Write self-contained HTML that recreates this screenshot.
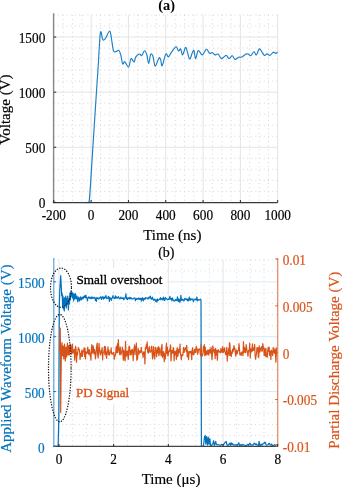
<!DOCTYPE html>
<html><head><meta charset="utf-8"><style>
html,body{margin:0;padding:0;background:#fff;}
svg{display:block;will-change:transform;font-family:"Liberation Serif", serif;}
</style></head><body>
<svg width="342" height="487" viewBox="0 0 342 487">
<rect width="342" height="487" fill="#fff"/>
<line x1="63.13" y1="14.99" x2="63.13" y2="202.4" stroke="#d6d6d6" stroke-width="1" stroke-dasharray="1 3.2"/>
<line x1="72.46" y1="14.99" x2="72.46" y2="202.4" stroke="#d6d6d6" stroke-width="1" stroke-dasharray="1 3.2"/>
<line x1="81.79" y1="14.99" x2="81.79" y2="202.4" stroke="#d6d6d6" stroke-width="1" stroke-dasharray="1 3.2"/>
<line x1="100.45" y1="14.99" x2="100.45" y2="202.4" stroke="#d6d6d6" stroke-width="1" stroke-dasharray="1 3.2"/>
<line x1="109.78" y1="14.99" x2="109.78" y2="202.4" stroke="#d6d6d6" stroke-width="1" stroke-dasharray="1 3.2"/>
<line x1="119.1" y1="14.99" x2="119.1" y2="202.4" stroke="#d6d6d6" stroke-width="1" stroke-dasharray="1 3.2"/>
<line x1="137.76" y1="14.99" x2="137.76" y2="202.4" stroke="#d6d6d6" stroke-width="1" stroke-dasharray="1 3.2"/>
<line x1="147.09" y1="14.99" x2="147.09" y2="202.4" stroke="#d6d6d6" stroke-width="1" stroke-dasharray="1 3.2"/>
<line x1="156.42" y1="14.99" x2="156.42" y2="202.4" stroke="#d6d6d6" stroke-width="1" stroke-dasharray="1 3.2"/>
<line x1="175.08" y1="14.99" x2="175.08" y2="202.4" stroke="#d6d6d6" stroke-width="1" stroke-dasharray="1 3.2"/>
<line x1="184.41" y1="14.99" x2="184.41" y2="202.4" stroke="#d6d6d6" stroke-width="1" stroke-dasharray="1 3.2"/>
<line x1="193.74" y1="14.99" x2="193.74" y2="202.4" stroke="#d6d6d6" stroke-width="1" stroke-dasharray="1 3.2"/>
<line x1="212.4" y1="14.99" x2="212.4" y2="202.4" stroke="#d6d6d6" stroke-width="1" stroke-dasharray="1 3.2"/>
<line x1="221.72" y1="14.99" x2="221.72" y2="202.4" stroke="#d6d6d6" stroke-width="1" stroke-dasharray="1 3.2"/>
<line x1="231.05" y1="14.99" x2="231.05" y2="202.4" stroke="#d6d6d6" stroke-width="1" stroke-dasharray="1 3.2"/>
<line x1="249.71" y1="14.99" x2="249.71" y2="202.4" stroke="#d6d6d6" stroke-width="1" stroke-dasharray="1 3.2"/>
<line x1="259.04" y1="14.99" x2="259.04" y2="202.4" stroke="#d6d6d6" stroke-width="1" stroke-dasharray="1 3.2"/>
<line x1="268.37" y1="14.99" x2="268.37" y2="202.4" stroke="#d6d6d6" stroke-width="1" stroke-dasharray="1 3.2"/>
<line x1="53.8" y1="191.38" x2="277.7" y2="191.38" stroke="#d6d6d6" stroke-width="1" stroke-dasharray="1 3.2"/>
<line x1="53.8" y1="180.35" x2="277.7" y2="180.35" stroke="#d6d6d6" stroke-width="1" stroke-dasharray="1 3.2"/>
<line x1="53.8" y1="169.33" x2="277.7" y2="169.33" stroke="#d6d6d6" stroke-width="1" stroke-dasharray="1 3.2"/>
<line x1="53.8" y1="158.3" x2="277.7" y2="158.3" stroke="#d6d6d6" stroke-width="1" stroke-dasharray="1 3.2"/>
<line x1="53.8" y1="136.26" x2="277.7" y2="136.26" stroke="#d6d6d6" stroke-width="1" stroke-dasharray="1 3.2"/>
<line x1="53.8" y1="125.23" x2="277.7" y2="125.23" stroke="#d6d6d6" stroke-width="1" stroke-dasharray="1 3.2"/>
<line x1="53.8" y1="114.21" x2="277.7" y2="114.21" stroke="#d6d6d6" stroke-width="1" stroke-dasharray="1 3.2"/>
<line x1="53.8" y1="103.18" x2="277.7" y2="103.18" stroke="#d6d6d6" stroke-width="1" stroke-dasharray="1 3.2"/>
<line x1="53.8" y1="81.14" x2="277.7" y2="81.14" stroke="#d6d6d6" stroke-width="1" stroke-dasharray="1 3.2"/>
<line x1="53.8" y1="70.11" x2="277.7" y2="70.11" stroke="#d6d6d6" stroke-width="1" stroke-dasharray="1 3.2"/>
<line x1="53.8" y1="59.09" x2="277.7" y2="59.09" stroke="#d6d6d6" stroke-width="1" stroke-dasharray="1 3.2"/>
<line x1="53.8" y1="48.06" x2="277.7" y2="48.06" stroke="#d6d6d6" stroke-width="1" stroke-dasharray="1 3.2"/>
<line x1="53.8" y1="26.02" x2="277.7" y2="26.02" stroke="#d6d6d6" stroke-width="1" stroke-dasharray="1 3.2"/>
<line x1="53.8" y1="14.99" x2="277.7" y2="14.99" stroke="#d6d6d6" stroke-width="1" stroke-dasharray="1 3.2"/>
<line x1="91.12" y1="14.99" x2="91.12" y2="202.4" stroke="#e4e4e4" stroke-width="1" />
<line x1="128.43" y1="14.99" x2="128.43" y2="202.4" stroke="#e4e4e4" stroke-width="1" />
<line x1="165.75" y1="14.99" x2="165.75" y2="202.4" stroke="#e4e4e4" stroke-width="1" />
<line x1="203.07" y1="14.99" x2="203.07" y2="202.4" stroke="#e4e4e4" stroke-width="1" />
<line x1="240.38" y1="14.99" x2="240.38" y2="202.4" stroke="#e4e4e4" stroke-width="1" />
<line x1="277.7" y1="14.99" x2="277.7" y2="202.4" stroke="#e4e4e4" stroke-width="1" />
<line x1="53.8" y1="147.28" x2="277.7" y2="147.28" stroke="#e4e4e4" stroke-width="1" />
<line x1="53.8" y1="92.16" x2="277.7" y2="92.16" stroke="#e4e4e4" stroke-width="1" />
<line x1="53.8" y1="37.04" x2="277.7" y2="37.04" stroke="#e4e4e4" stroke-width="1" />
<path fill="none" stroke="#1a7fc6" stroke-width="1.15" stroke-linejoin="round" d="M85,202.4 C85.55,202.37 87.53,203.1 88.3,202.2 C89.07,201.3 88.83,206.2 89.6,197 C90.37,187.8 91.9,162.33 92.9,147 C93.9,131.67 94.72,118.5 95.6,105 C96.48,91.5 97.4,78.05 98.2,66 C99,53.95 99.63,37.08 100.4,32.7 C101.17,28.32 101.95,38.77 102.8,39.7 C103.65,40.63 104.37,39.75 105.5,38.3 C106.63,36.85 108.63,31.13 109.6,31 C110.57,30.87 110.65,34.22 111.3,37.5 C111.95,40.78 112.65,48.38 113.5,50.7 C114.35,53.02 115.5,51.45 116.4,51.4 C117.3,51.35 118.17,49.78 118.9,50.4 C119.63,51.02 120.17,52.85 120.8,55.1 C121.43,57.35 122.03,62.8 122.7,63.9 C123.37,65 123.82,61.17 124.8,61.7 C125.78,62.23 127.57,67.6 128.6,67.1 C129.63,66.6 130.08,59.55 131,58.7 C131.92,57.85 133.3,62.3 134.1,62 C134.9,61.7 134.9,58.23 135.8,56.9 C136.7,55.57 138.52,54.23 139.5,54 C140.48,53.77 140.85,56.03 141.7,55.5 C142.55,54.97 143.75,50.93 144.6,50.8 C145.45,50.67 146.12,52.58 146.8,54.7 C147.48,56.82 148.08,63.5 148.7,63.5 C149.32,63.5 149.83,56.03 150.5,54.7 C151.17,53.37 151.97,53.67 152.7,55.5 C153.43,57.33 154.18,64.48 154.9,65.7 C155.62,66.92 156.28,64.13 157,62.8 C157.72,61.47 158.58,58.18 159.2,57.7 C159.82,57.22 160.2,58.57 160.7,59.9 C161.2,61.23 161.35,66.68 162.2,65.7 C163.05,64.72 164.78,55.47 165.8,54 C166.82,52.53 167.32,57.27 168.3,56.9 C169.28,56.53 170.42,53.5 171.7,51.8 C172.98,50.1 174.87,46.85 176,46.7 C177.13,46.55 177.73,50.52 178.5,50.9 C179.27,51.28 179.9,48.33 180.6,49 C181.3,49.67 181.82,55.17 182.7,54.9 C183.58,54.63 184.77,46.73 185.9,47.4 C187.03,48.07 188.42,58.05 189.5,58.9 C190.58,59.75 191.65,53.88 192.4,52.5 C193.15,51.12 193.47,49.58 194,50.6 C194.53,51.62 194.88,58.6 195.6,58.6 C196.32,58.6 197.18,51.22 198.3,50.6 C199.42,49.98 200.95,55.12 202.3,54.9 C203.65,54.68 205.18,49.57 206.4,49.3 C207.62,49.03 208.62,52.77 209.6,53.3 C210.58,53.83 211.42,52.23 212.3,52.5 C213.18,52.77 213.93,54.63 214.9,54.9 C215.87,55.17 216.98,53.48 218.1,54.1 C219.22,54.72 220.27,58.38 221.6,58.6 C222.93,58.82 224.87,55.4 226.1,55.4 C227.33,55.4 227.98,58.55 229,58.6 C230.02,58.65 231.2,55.58 232.2,55.7 C233.2,55.82 233.92,59.03 235,59.3 C236.08,59.57 237.55,57.68 238.7,57.3 C239.85,56.92 240.7,57.53 241.9,57 C243.1,56.47 244.83,54.58 245.9,54.1 C246.97,53.62 247.5,53.83 248.3,54.1 C249.1,54.37 249.77,56.1 250.7,55.7 C251.63,55.3 252.95,51.83 253.9,51.7 C254.85,51.57 255.53,55.35 256.4,54.9 C257.27,54.45 258.3,49.67 259.1,49 C259.9,48.33 260.32,49.83 261.2,50.9 C262.08,51.97 263.42,54.92 264.4,55.4 C265.38,55.88 266.17,53.8 267.1,53.8 C268.03,53.8 268.98,55.67 270,55.4 C271.02,55.13 272.25,52.55 273.2,52.2 C274.15,51.85 274.95,53.3 275.7,53.3 C276.45,53.3 277.37,52.38 277.7,52.2"/>
<line x1="53.6" y1="13.2" x2="53.6" y2="202.9" stroke="#858585" stroke-width="1.4" />
<line x1="52.8" y1="202.6" x2="277.7" y2="202.6" stroke="#3a3a3a" stroke-width="1.2" />
<line x1="53.8" y1="202.4" x2="56.2" y2="202.4" stroke="#262626" stroke-width="1" />
<text transform="translate(45.3,208.4) scale(1,1.1)" fill="#000" stroke="#000" stroke-width="0.18" font-size="13.3" text-anchor="end" >0</text>
<line x1="53.8" y1="147.28" x2="56.2" y2="147.28" stroke="#262626" stroke-width="1" />
<text transform="translate(45.3,153.28) scale(1,1.1)" fill="#000" stroke="#000" stroke-width="0.18" font-size="13.3" text-anchor="end" >500</text>
<line x1="53.8" y1="92.16" x2="56.2" y2="92.16" stroke="#262626" stroke-width="1" />
<text transform="translate(45.3,98.16) scale(1,1.1)" fill="#000" stroke="#000" stroke-width="0.18" font-size="13.3" text-anchor="end" >1000</text>
<line x1="53.8" y1="37.04" x2="56.2" y2="37.04" stroke="#262626" stroke-width="1" />
<text transform="translate(45.3,43.04) scale(1,1.1)" fill="#000" stroke="#000" stroke-width="0.18" font-size="13.3" text-anchor="end" >1500</text>
<line x1="53.8" y1="202.4" x2="53.8" y2="200" stroke="#262626" stroke-width="1" />
<text transform="translate(53.8,219.6) scale(1,1.1)" fill="#000" stroke="#000" stroke-width="0.18" font-size="13.3" text-anchor="middle" >-200</text>
<line x1="91.12" y1="202.4" x2="91.12" y2="200" stroke="#262626" stroke-width="1" />
<text transform="translate(91.12,219.6) scale(1,1.1)" fill="#000" stroke="#000" stroke-width="0.18" font-size="13.3" text-anchor="middle" >0</text>
<line x1="128.43" y1="202.4" x2="128.43" y2="200" stroke="#262626" stroke-width="1" />
<text transform="translate(128.43,219.6) scale(1,1.1)" fill="#000" stroke="#000" stroke-width="0.18" font-size="13.3" text-anchor="middle" >200</text>
<line x1="165.75" y1="202.4" x2="165.75" y2="200" stroke="#262626" stroke-width="1" />
<text transform="translate(165.75,219.6) scale(1,1.1)" fill="#000" stroke="#000" stroke-width="0.18" font-size="13.3" text-anchor="middle" >400</text>
<line x1="203.07" y1="202.4" x2="203.07" y2="200" stroke="#262626" stroke-width="1" />
<text transform="translate(203.07,219.6) scale(1,1.1)" fill="#000" stroke="#000" stroke-width="0.18" font-size="13.3" text-anchor="middle" >600</text>
<line x1="240.38" y1="202.4" x2="240.38" y2="200" stroke="#262626" stroke-width="1" />
<text transform="translate(240.38,219.6) scale(1,1.1)" fill="#000" stroke="#000" stroke-width="0.18" font-size="13.3" text-anchor="middle" >800</text>
<line x1="277.7" y1="202.4" x2="277.7" y2="200" stroke="#262626" stroke-width="1" />
<text transform="translate(277.7,219.6) scale(1,1.1)" fill="#000" stroke="#000" stroke-width="0.18" font-size="13.3" text-anchor="middle" >1000</text>
<text transform="translate(172.3,240) scale(1,1.0)" fill="#000" stroke="#000" stroke-width="0.18" font-size="15" text-anchor="middle" >Time (ns)</text>
<text transform="translate(10.1,109.6) rotate(-90)" fill="#000" stroke="#000" stroke-width="0.18" font-size="15" text-anchor="middle">Voltage (V)</text>
<text transform="translate(166.6,10.1) scale(1,1.0)" fill="#000" stroke="#000" stroke-width="0" font-size="14.4" text-anchor="middle" font-weight="bold">(a)</text>
<text transform="translate(166.3,256.5) scale(1,1.0)" fill="#000" stroke="#000" stroke-width="0.18" font-size="14" text-anchor="middle" >(b)</text>
<line x1="72.64" y1="259.91" x2="72.64" y2="446.4" stroke="#d6d6d6" stroke-width="1" stroke-dasharray="1 3.2"/>
<line x1="86.31" y1="259.91" x2="86.31" y2="446.4" stroke="#d6d6d6" stroke-width="1" stroke-dasharray="1 3.2"/>
<line x1="99.98" y1="259.91" x2="99.98" y2="446.4" stroke="#d6d6d6" stroke-width="1" stroke-dasharray="1 3.2"/>
<line x1="127.32" y1="259.91" x2="127.32" y2="446.4" stroke="#d6d6d6" stroke-width="1" stroke-dasharray="1 3.2"/>
<line x1="140.99" y1="259.91" x2="140.99" y2="446.4" stroke="#d6d6d6" stroke-width="1" stroke-dasharray="1 3.2"/>
<line x1="154.66" y1="259.91" x2="154.66" y2="446.4" stroke="#d6d6d6" stroke-width="1" stroke-dasharray="1 3.2"/>
<line x1="182" y1="259.91" x2="182" y2="446.4" stroke="#d6d6d6" stroke-width="1" stroke-dasharray="1 3.2"/>
<line x1="195.68" y1="259.91" x2="195.68" y2="446.4" stroke="#d6d6d6" stroke-width="1" stroke-dasharray="1 3.2"/>
<line x1="209.35" y1="259.91" x2="209.35" y2="446.4" stroke="#d6d6d6" stroke-width="1" stroke-dasharray="1 3.2"/>
<line x1="236.69" y1="259.91" x2="236.69" y2="446.4" stroke="#d6d6d6" stroke-width="1" stroke-dasharray="1 3.2"/>
<line x1="250.36" y1="259.91" x2="250.36" y2="446.4" stroke="#d6d6d6" stroke-width="1" stroke-dasharray="1 3.2"/>
<line x1="264.03" y1="259.91" x2="264.03" y2="446.4" stroke="#d6d6d6" stroke-width="1" stroke-dasharray="1 3.2"/>
<line x1="53.5" y1="435.43" x2="277.7" y2="435.43" stroke="#c2ddf0" stroke-width="1" stroke-dasharray="1 3.2"/>
<line x1="53.5" y1="424.46" x2="277.7" y2="424.46" stroke="#c2ddf0" stroke-width="1" stroke-dasharray="1 3.2"/>
<line x1="53.5" y1="413.49" x2="277.7" y2="413.49" stroke="#c2ddf0" stroke-width="1" stroke-dasharray="1 3.2"/>
<line x1="53.5" y1="402.52" x2="277.7" y2="402.52" stroke="#c2ddf0" stroke-width="1" stroke-dasharray="1 3.2"/>
<line x1="53.5" y1="380.58" x2="277.7" y2="380.58" stroke="#c2ddf0" stroke-width="1" stroke-dasharray="1 3.2"/>
<line x1="53.5" y1="369.61" x2="277.7" y2="369.61" stroke="#c2ddf0" stroke-width="1" stroke-dasharray="1 3.2"/>
<line x1="53.5" y1="358.64" x2="277.7" y2="358.64" stroke="#c2ddf0" stroke-width="1" stroke-dasharray="1 3.2"/>
<line x1="53.5" y1="347.67" x2="277.7" y2="347.67" stroke="#c2ddf0" stroke-width="1" stroke-dasharray="1 3.2"/>
<line x1="53.5" y1="325.73" x2="277.7" y2="325.73" stroke="#c2ddf0" stroke-width="1" stroke-dasharray="1 3.2"/>
<line x1="53.5" y1="314.76" x2="277.7" y2="314.76" stroke="#c2ddf0" stroke-width="1" stroke-dasharray="1 3.2"/>
<line x1="53.5" y1="303.79" x2="277.7" y2="303.79" stroke="#c2ddf0" stroke-width="1" stroke-dasharray="1 3.2"/>
<line x1="53.5" y1="292.82" x2="277.7" y2="292.82" stroke="#c2ddf0" stroke-width="1" stroke-dasharray="1 3.2"/>
<line x1="53.5" y1="270.88" x2="277.7" y2="270.88" stroke="#c2ddf0" stroke-width="1" stroke-dasharray="1 3.2"/>
<line x1="53.5" y1="259.91" x2="277.7" y2="259.91" stroke="#c2ddf0" stroke-width="1" stroke-dasharray="1 3.2"/>
<line x1="58.97" y1="259.91" x2="58.97" y2="446.4" stroke="#e4e4e4" stroke-width="1" />
<line x1="113.65" y1="259.91" x2="113.65" y2="446.4" stroke="#e4e4e4" stroke-width="1" />
<line x1="168.33" y1="259.91" x2="168.33" y2="446.4" stroke="#e4e4e4" stroke-width="1" />
<line x1="223.02" y1="259.91" x2="223.02" y2="446.4" stroke="#e4e4e4" stroke-width="1" />
<line x1="277.7" y1="259.91" x2="277.7" y2="446.4" stroke="#e4e4e4" stroke-width="1" />
<line x1="53.5" y1="391.55" x2="277.7" y2="391.55" stroke="#d9eaf5" stroke-width="1" />
<line x1="53.5" y1="336.7" x2="277.7" y2="336.7" stroke="#d9eaf5" stroke-width="1" />
<line x1="53.5" y1="281.85" x2="277.7" y2="281.85" stroke="#d9eaf5" stroke-width="1" />
<polyline fill="none" stroke="#0072BD" stroke-width="1.2" stroke-linejoin="round" points="53.6,446.4 58.1,446.4 58.8,420 59.3,306 59.8,290 60.7,275.7 61.2,285 61.7,295.7 62.2,293.7 62.6,306 63,296 63.4,309 63.9,298.8 64.3,311 64.8,297.5 65.3,305 65.8,296 66.3,308 66.8,298.5 67.3,304 67.8,296 68.4,310 68.9,299 69.4,304 69.9,293 70.4,300 70.9,291.6 71.4,296 71.9,292 72.4,298 73,293 73.6,301 74.2,294 74.8,299 75.5,293.7 76.2,299 77,296 77.8,302 78.6,297 79.5,301 80.5,296.8 81.3,300 82.2,297 83,299 83.8,296.5 84.4,297.4 84.9,295.33 85.4,297.83 85.9,295.33 86.4,297.37 86.9,297.56 87.4,300.82 87.9,298.21 88.4,297.85 88.9,296.82 89.4,298.18 89.9,297.55 90.4,297.38 90.9,298.76 91.4,298.46 91.9,296.76 92.4,297.78 92.9,298.44 93.4,297.43 93.9,297.85 94.4,297.47 94.9,297.32 95.4,300.38 95.9,298.46 96.4,301.29 96.9,297.45 97.4,298.48 97.9,298.19 98.4,298.03 98.9,299.08 99.4,298.41 99.9,297.54 100.4,297.13 100.9,296.84 101.4,299.5 101.9,297.39 102.4,297.98 102.9,296.54 103.4,299.04 103.9,297.46 104.4,298.37 104.9,296.82 105.4,297.63 105.9,295.43 106.4,298.1 106.9,298.63 107.4,298.05 107.9,298.14 108.4,296.27 108.9,297.28 109.4,301.31 109.9,297.46 110.4,298.59 110.9,298.97 111.4,300.29 111.9,297.84 112.4,297.93 112.9,295.64 113.4,297.83 113.9,297.89 114.4,297.93 114.9,298.51 115.4,295.92 115.9,298.22 116.4,296.92 116.9,297.7 117.4,298.2 117.9,297.61 118.4,296.63 118.9,298.07 119.4,298.02 119.9,298.93 120.4,297.9 120.9,297.19 121.4,298.31 121.9,298.37 122.4,297.83 122.9,298.54 123.4,297.87 123.9,299.79 124.4,298.3 124.9,297.82 125.4,297.96 125.9,293.79 126.4,298.51 126.9,298.97 127.4,299.69 127.9,297.56 128.4,298.58 128.9,298.16 129.4,298.76 129.9,297.2 130.4,298.69 130.9,297.82 131.4,297.89 131.9,299.03 132.4,298.75 132.9,298.93 133.4,298.73 133.9,298.16 134.4,298.18 134.9,297.98 135.4,300.73 135.9,298.81 136.4,299.41 136.9,298.29 137.4,298.8 137.9,299.25 138.4,298.14 138.9,298.36 139.4,299.32 139.9,298.3 140.4,299.4 140.9,298.25 141.4,301.02 141.9,298.92 142.4,297.67 142.9,299.46 143.4,300.89 143.9,298.41 144.4,298.79 144.9,299.44 145.4,297.56 145.9,298.31 146.4,298.11 146.9,298.22 147.4,297.9 147.9,299.15 148.4,298.35 148.9,297.32 149.4,297.1 149.9,298.2 150.4,296.01 150.9,298.42 151.4,299.17 151.9,299.26 152.4,297.08 152.9,298.95 153.4,299.4 153.9,300.36 154.4,299.91 154.9,299.2 155.4,300.24 155.9,301.55 156.4,300.04 156.9,302.03 157.4,298.97 157.9,300.42 158.4,300.23 158.9,299.63 159.4,299.41 159.9,299.15 160.4,297.63 160.9,299.89 161.4,298.85 161.9,298.42 162.4,299.17 162.9,299.85 163.4,297.01 163.9,298.86 164.4,300.64 164.9,299.84 165.4,297.48 165.9,298.62 166.4,298.64 166.9,299.13 167.4,299.75 167.9,299.42 168.4,299.3 168.9,298.61 169.4,299.2 169.9,296.4 170.4,299.25 170.9,298.68 171.4,298.35 171.9,300.96 172.4,297.98 172.9,299.42 173.4,299.89 173.9,300.91 174.4,301.24 174.9,300.51 175.4,299.5 175.9,300.53 176.4,299.83 176.9,300.5 177.4,296.73 177.9,300.18 178.4,301.55 178.9,298.96 179.4,300.15 179.9,302.33 180.4,299.83 180.9,295.44 181.4,300.18 181.9,300.37 182.4,299.31 182.9,299.31 183.4,300.51 183.9,300.97 184.4,299.7 184.9,298.32 185.4,299.27 185.9,299.31 186.4,298.78 186.9,299.56 187.4,300.77 187.9,298.93 188.4,300.87 188.9,299.79 189.4,297.21 189.9,300.2 190.4,300.26 190.9,298.66 191.4,299.32 191.9,299.66 192.4,299.74 192.9,298.76 193.4,301.77 193.9,300.08 194.4,299.71 194.9,299.25 195.4,299.01 195.9,299.84 196.4,299.94 196.9,296.97 197.4,300.85 197.9,299.54 198.4,299.56 198.9,300.23 199.4,299.82 199.9,299.72 200.4,299.26 201,300 201.4,446 203.5,446 204.5,437 205.2,435.5 205.8,444 206.6,436.5 207.4,445 208.2,437 209,444.5 209.8,438.5 210.6,445.5 211.5,446 212.2,444.34 212.9,443.45 213.6,440.71 214.3,445.47 215,443.91 215.7,441.41 216.4,444.71 217.1,444.74 217.8,444.55 218.5,444.88 219.2,444.98 219.9,445.14 220.6,445.24 221.3,444.26 222,444.7 222.7,444.95 223.4,444.98 224.1,443.7 224.8,442.93 225.5,441.92 226.2,441.47 226.9,444.84 227.6,445.54 228.3,445.28 229,444.02 229.7,443.46 230.4,445.35 231.1,442.58 231.8,444.59 232.5,443.52 233.2,444.66 233.9,445.18 234.6,444.81 235.3,444.76 236,445.11 236.7,444.69 237.4,445.5 238.1,444.15 238.8,442.75 239.5,445.35 240.2,445.29 240.9,444.56 241.6,445.26 242.3,444.47 243,445.05 243.7,444.78 244.4,445.3 245.1,445.54 245.8,445.41 246.5,445.58 247.2,444.91 247.9,444.29 248.6,445.58 249.3,443.86 250,443.21 250.7,445 251.4,444.81 252.1,445.24 252.8,444.87 253.5,444.85 254.2,443.01 254.9,443.52 255.6,444.63 256.3,443.94 257,445.05 257.7,445.13 258.4,445.52 259.1,441.27 259.8,445.59 260.5,445.55 261.2,444.06 261.9,445.23 262.6,444.54 263.3,443.39 264,443.32 264.7,442.34 265.4,442.34 266.1,444.82 266.8,445.2 267.5,444.97 268.2,444.59 268.9,443.42 269.6,443.65 270.3,444.97 271,445.25 271.7,444.06 272.4,445.53 273.1,445.51 273.8,445.53 274.5,444.53 275.2,445.12 275.9,445.21 276.6,444.55"/>
<polyline fill="none" stroke="#D95319" stroke-width="1.2" stroke-linejoin="round" points="59.6,351 59.9,336 60.2,328.2 60.45,345 60.7,412.4 61,380 61.4,350 62,342.6 62.6,356 63.2,346 63.8,359 64.5,344 65.3,361 66,347 66.7,357 67.4,343 68.1,355 68.8,345.5 69.3,354.97 69.75,354.32 70.2,344.39 70.65,344.51 71.1,346.93 71.55,354.03 72,350.72 72.45,344.14 72.9,353.26 73.35,351.38 73.8,350.56 74.25,349.32 74.7,360.18 75.15,353.07 75.6,346.24 76.05,349.31 76.5,362.11 76.95,352.78 77.4,355.28 77.85,351.1 78.3,347.67 78.75,349.03 79.2,349.02 79.65,351.79 80.1,359.37 80.55,353.66 81,356.66 81.45,352.88 81.9,349.85 82.35,356.44 82.8,352.55 83.25,351 83.7,350.61 84.15,347.79 84.6,356.59 85.05,348.27 85.5,359.02 85.95,351.82 86.4,352.81 86.85,353.37 87.3,352.34 87.75,347.06 88.2,353.21 88.65,354.25 89.1,349.52 89.55,350.86 90,355.55 90.45,353.42 90.9,360.21 91.35,350.76 91.8,344.66 92.25,353.09 92.7,352.23 93.15,345.89 93.6,350.92 94.05,353.96 94.5,349.44 94.95,352.19 95.4,358.79 95.85,355.32 96.3,351.21 96.75,345.62 97.2,343.09 97.65,354.06 98.1,357.99 98.55,352.46 99,343.45 99.45,348.97 99.9,352.2 100.35,354.9 100.8,354.14 101.25,350.16 101.7,352.74 102.15,347.51 102.6,359.93 103.05,353.12 103.5,352.14 103.95,351.79 104.4,346.47 104.85,354.61 105.3,346.71 105.75,350.38 106.2,356.29 106.65,358.31 107.1,351.73 107.55,352.93 108,346.91 108.45,354.69 108.9,350.14 109.35,355.05 109.8,353.73 110.25,352.14 110.7,352.18 111.15,347.97 111.6,354 112.05,352.84 112.5,354.09 112.95,354.36 113.4,352.73 113.85,352.34 114.3,359.25 114.75,355.55 115.2,355.86 115.65,354.09 116.1,347.26 116.55,346.38 117,352.64 117.45,343.95 117.9,352.53 118.35,339.63 118.8,349.96 119.25,348.86 119.7,354.74 120.15,346.75 120.6,351.42 121.05,354.68 121.5,351.52 121.95,351.65 122.4,347.07 122.85,352.9 123.3,360.25 123.75,350.09 124.2,352.01 124.65,358.8 125.1,360.85 125.55,341.31 126,356.75 126.45,351.27 126.9,355.21 127.35,350.96 127.8,354.36 128.25,359.37 128.7,349.79 129.15,345.98 129.6,346.71 130.05,355.08 130.5,350.56 130.95,351.65 131.4,354.57 131.85,349.66 132.3,349.38 132.75,352.08 133.2,360.58 133.65,350.63 134.1,348.76 134.55,344.89 135,354.75 135.45,347.17 135.9,350.14 136.35,343.07 136.8,360.3 137.25,359.38 137.7,357.72 138.15,348.35 138.6,351.89 139.05,354.09 139.5,350.72 139.95,352.18 140.4,352.46 140.85,351.71 141.3,347.36 141.75,350.81 142.2,353.5 142.65,353.75 143.1,357.31 143.55,351.93 144,353.1 144.45,352.12 144.9,363.95 145.35,347.81 145.8,348.97 146.25,344.83 146.7,348.1 147.15,341.75 147.6,351.72 148.05,352.78 148.5,353.12 148.95,347.59 149.4,346.7 149.85,351.08 150.3,352.39 150.75,351.32 151.2,351.04 151.65,346.1 152.1,352.58 152.55,359.02 153,357.23 153.45,346.66 153.9,355.84 154.35,352.92 154.8,359.06 155.25,347.02 155.7,352.5 156.15,350.54 156.6,356.63 157.05,347.83 157.5,353.25 157.95,350.3 158.4,346.71 158.85,355.83 159.3,353.63 159.75,347.97 160.2,352.16 160.65,351.43 161.1,355.76 161.55,347.54 162,344.29 162.45,357.35 162.9,356.11 163.35,352.35 163.8,351.57 164.25,361.76 164.7,353.97 165.15,359.19 165.6,355.43 166.05,347.6 166.5,343.22 166.95,353.52 167.4,347.25 167.85,355.94 168.3,354.6 168.75,350.8 169.2,351.71 169.65,350.73 170.1,348.31 170.55,344.96 171,360.86 171.45,352.18 171.9,350.38 172.35,351.6 172.8,353.43 173.25,347.59 173.7,348.71 174.15,360.8 174.6,351.62 175.05,352.94 175.5,354.93 175.95,350.87 176.4,359.3 176.85,350.19 177.3,347.72 177.75,356.48 178.2,354.23 178.65,349.25 179.1,349.17 179.55,352.48 180,344.03 180.45,354.7 180.9,355.86 181.35,359.65 181.8,354.5 182.25,354.57 182.7,355.66 183.15,352.32 183.6,347.41 184.05,352.69 184.5,350.45 184.95,349.04 185.4,348.22 185.85,347.42 186.3,351.58 186.75,345.23 187.2,356.62 187.65,350.56 188.1,352.11 188.55,359.61 189,353.38 189.45,351.34 189.9,352.49 190.35,352.92 190.8,351.16 191.25,352.97 191.7,359.74 192.15,350.05 192.6,347.75 193.05,354.22 193.5,354.89 193.95,354.33 194.4,349.49 194.85,349.31 195.3,352.53 195.75,352.17 196.2,346.34 196.65,349.11 197.1,348.58 197.55,354.21 198,353.39 198.45,349.68 198.9,349.58 199.35,348.95 199.8,349.06 200.25,353.36 200.7,355.79 201.15,344.47 201.6,354.46 202.05,356.28 202.5,354.87 202.95,353.96 203.4,346.7 203.85,351.04 204.3,344.62 204.75,355.68 205.2,347.03 205.65,354.9 206.1,350.71 206.55,352.29 207,354.82 207.45,351.69 207.9,349.85 208.35,353.48 208.8,355.15 209.25,349.91 209.7,349.63 210.15,352.83 210.6,353.11 211.05,347.04 211.5,352.68 211.95,359.81 212.4,353.94 212.85,345.88 213.3,349.77 213.75,350.89 214.2,352.94 214.65,349.3 215.1,358.62 215.55,348.38 216,355.15 216.45,350.4 216.9,350.42 217.35,360.23 217.8,351.79 218.25,349.63 218.7,351.9 219.15,351.45 219.6,351.4 220.05,352.93 220.5,351.9 220.95,348.4 221.4,351.92 221.85,349.47 222.3,352.36 222.75,346.59 223.2,352.56 223.65,349.54 224.1,351.22 224.55,347.86 225,351.18 225.45,353.8 225.9,354.86 226.35,352.73 226.8,347.29 227.25,361.05 227.7,352.25 228.15,353.12 228.6,348.7 229.05,355.58 229.5,342.52 229.95,344.43 230.4,355.32 230.85,350.95 231.3,356.53 231.75,352.51 232.2,353.43 232.65,348.99 233.1,351.69 233.55,349.15 234,345.57 234.45,349.34 234.9,348.19 235.35,353.62 235.8,356.15 236.25,350.65 236.7,350.26 237.15,353.94 237.6,351.6 238.05,350.48 238.5,350.39 238.95,343.66 239.4,348.03 239.85,355.02 240.3,352.84 240.75,354.38 241.2,355.34 241.65,352.21 242.1,351.87 242.55,353.64 243,355.73 243.45,341.49 243.9,352.37 244.35,347.27 244.8,348.85 245.25,352.76 245.7,352.41 246.15,344.51 246.6,347.99 247.05,350.38 247.5,352.09 247.95,356.24 248.4,351.19 248.85,350.09 249.3,350.99 249.75,343.01 250.2,357.9 250.65,350.85 251.1,348.79 251.55,351.86 252,351.13 252.45,343.94 252.9,350.77 253.35,349.66 253.8,347.78 254.25,350.03 254.7,344.47 255.15,356.17 255.6,359.2 256.05,355.53 256.5,353.7 256.95,347.51 257.4,350.88 257.85,347.72 258.3,357.48 258.75,356.88 259.2,345.73 259.65,352.23 260.1,351.49 260.55,348.43 261,347.94 261.45,346.57 261.9,351.31 262.35,350.82 262.8,343.62 263.25,346.82 263.7,347.36 264.15,355.38 264.6,350.31 265.05,348.71 265.5,356.32 265.95,348.72 266.4,355.8 266.85,356.77 267.3,357.23 267.75,350.49 268.2,347.32 268.65,351.4 269.1,347.12 269.55,355.33 270,350.99 270.45,352.46 270.9,359.39 271.35,350.03 271.8,351.75 272.25,351.87 272.7,355.72 273.15,347.68 273.6,350.89 274.05,352.14 274.5,353.35 274.95,348.32 275.4,350.08 275.85,362.25 276.3,354.52 276.75,347.5"/>
<line x1="53.8" y1="258" x2="53.8" y2="446.9" stroke="#5ea3d9" stroke-width="1.2" />
<line x1="277.7" y1="258" x2="277.7" y2="446.9" stroke="#e58a5e" stroke-width="1.2" />
<line x1="53.5" y1="446.4" x2="277.7" y2="446.4" stroke="#444" stroke-width="1.2" />
<line x1="53.5" y1="446.4" x2="55.9" y2="446.4" stroke="#0072BD" stroke-width="1" />
<text transform="translate(44.7,452.7) scale(1,1.1)" fill="#0072BD" stroke="#0072BD" stroke-width="0.18" font-size="13.3" text-anchor="end" >0</text>
<line x1="53.5" y1="391.55" x2="55.9" y2="391.55" stroke="#0072BD" stroke-width="1" />
<text transform="translate(44.7,397.85) scale(1,1.1)" fill="#0072BD" stroke="#0072BD" stroke-width="0.18" font-size="13.3" text-anchor="end" >500</text>
<line x1="53.5" y1="336.7" x2="55.9" y2="336.7" stroke="#0072BD" stroke-width="1" />
<text transform="translate(44.7,343) scale(1,1.1)" fill="#0072BD" stroke="#0072BD" stroke-width="0.18" font-size="13.3" text-anchor="end" >1000</text>
<line x1="53.5" y1="281.85" x2="55.9" y2="281.85" stroke="#0072BD" stroke-width="1" />
<text transform="translate(44.7,288.15) scale(1,1.1)" fill="#0072BD" stroke="#0072BD" stroke-width="0.18" font-size="13.3" text-anchor="end" >1500</text>
<line x1="277.7" y1="259" x2="275.3" y2="259" stroke="#D95319" stroke-width="1" />
<text transform="translate(282.7,264.8) scale(1,1.1)" fill="#D95319" stroke="#D95319" stroke-width="0.18" font-size="13.3" text-anchor="start" >0.01</text>
<line x1="277.7" y1="305.85" x2="275.3" y2="305.85" stroke="#D95319" stroke-width="1" />
<text transform="translate(282.7,311.65) scale(1,1.1)" fill="#D95319" stroke="#D95319" stroke-width="0.18" font-size="13.3" text-anchor="start" >0.005</text>
<line x1="277.7" y1="352.7" x2="275.3" y2="352.7" stroke="#D95319" stroke-width="1" />
<text transform="translate(282.7,358.5) scale(1,1.1)" fill="#D95319" stroke="#D95319" stroke-width="0.18" font-size="13.3" text-anchor="start" >0</text>
<line x1="277.7" y1="399.55" x2="275.3" y2="399.55" stroke="#D95319" stroke-width="1" />
<text transform="translate(282.7,405.35) scale(1,1.1)" fill="#D95319" stroke="#D95319" stroke-width="0.18" font-size="13.3" text-anchor="start" >-0.005</text>
<line x1="277.7" y1="446.4" x2="275.3" y2="446.4" stroke="#D95319" stroke-width="1" />
<text transform="translate(282.7,452.2) scale(1,1.1)" fill="#D95319" stroke="#D95319" stroke-width="0.18" font-size="13.3" text-anchor="start" >-0.01</text>
<line x1="58.97" y1="446.4" x2="58.97" y2="444" stroke="#262626" stroke-width="1" />
<text transform="translate(58.97,463.8) scale(1,1.1)" fill="#000" stroke="#000" stroke-width="0.18" font-size="13.3" text-anchor="middle" >0</text>
<line x1="113.65" y1="446.4" x2="113.65" y2="444" stroke="#262626" stroke-width="1" />
<text transform="translate(113.65,463.8) scale(1,1.1)" fill="#000" stroke="#000" stroke-width="0.18" font-size="13.3" text-anchor="middle" >2</text>
<line x1="168.33" y1="446.4" x2="168.33" y2="444" stroke="#262626" stroke-width="1" />
<text transform="translate(168.33,463.8) scale(1,1.1)" fill="#000" stroke="#000" stroke-width="0.18" font-size="13.3" text-anchor="middle" >4</text>
<line x1="223.02" y1="446.4" x2="223.02" y2="444" stroke="#262626" stroke-width="1" />
<text transform="translate(223.02,463.8) scale(1,1.1)" fill="#000" stroke="#000" stroke-width="0.18" font-size="13.3" text-anchor="middle" >6</text>
<line x1="277.7" y1="446.4" x2="277.7" y2="444" stroke="#262626" stroke-width="1" />
<text transform="translate(277.7,463.8) scale(1,1.1)" fill="#000" stroke="#000" stroke-width="0.18" font-size="13.3" text-anchor="middle" >8</text>
<text transform="translate(171,483.5) scale(1,1.0)" fill="#000" stroke="#000" stroke-width="0.18" font-size="15" text-anchor="middle" >Time (μs)</text>
<text transform="translate(10.5,358.6) rotate(-90)" fill="#0072BD" stroke="#0072BD" stroke-width="0.18" font-size="15" text-anchor="middle">Applied Waveform Voltage (V)</text>
<text transform="translate(338.5,360.2) rotate(-90)" fill="#D95319" stroke="#D95319" stroke-width="0.18" font-size="15" text-anchor="middle">Partial Discharge Voltage (V)</text>
<ellipse cx="61" cy="287.7" rx="10.5" ry="19.6" fill="none" stroke="#111" stroke-width="1.2" stroke-dasharray="1.3 1.4"/>
<ellipse cx="59.8" cy="368.2" rx="11.3" ry="53.6" fill="none" stroke="#111" stroke-width="1.2" stroke-dasharray="1.3 1.4"/>
<rect x="72" y="268" width="94.3" height="23" fill="#fff"/>
<rect x="73" y="381.2" width="58" height="23.3" fill="#fff"/>
<text transform="translate(76.4,284) scale(1,1.0)" fill="#000" stroke="#000" stroke-width="0.3" font-size="13.2" text-anchor="start" >Small overshoot</text>
<text transform="translate(76,397.2) scale(1,1.0)" fill="#D95319" stroke="#D95319" stroke-width="0.3" font-size="13" text-anchor="start" >PD Signal</text>
</svg></body></html>
